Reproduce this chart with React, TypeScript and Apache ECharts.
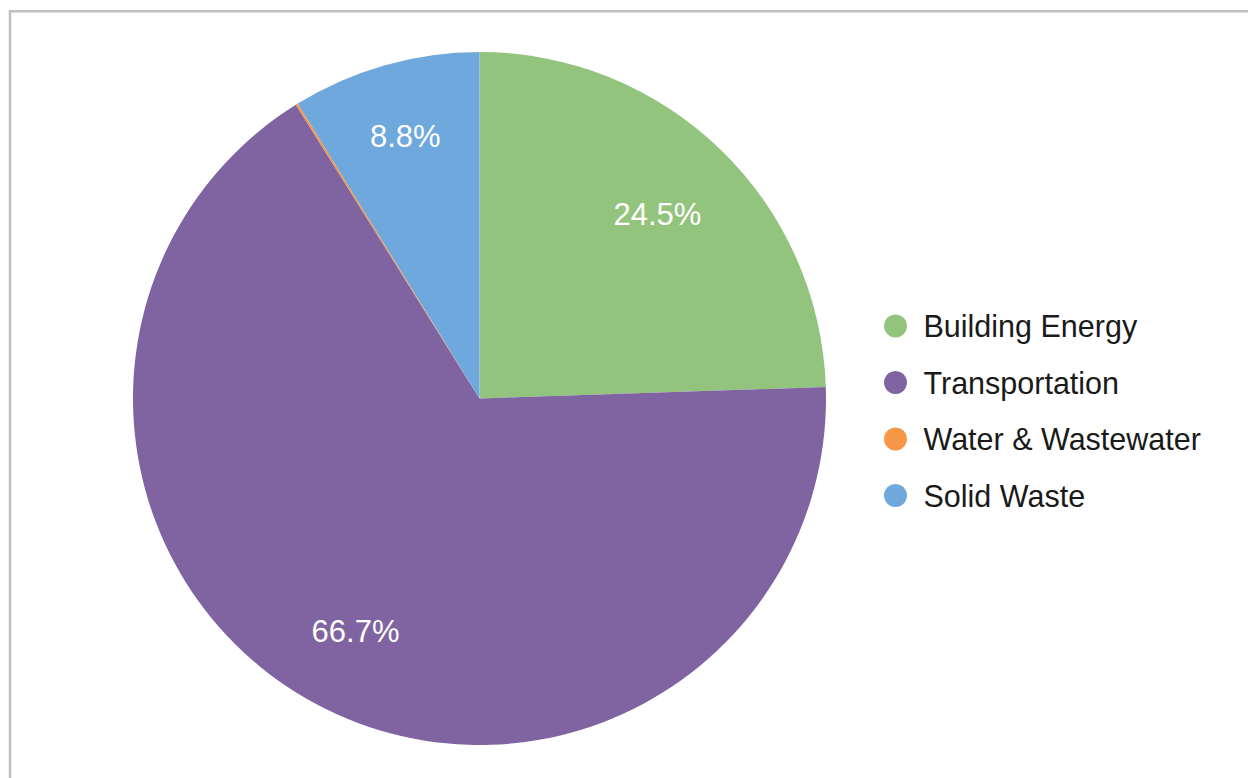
import React, { useEffect, useRef } from "react";
import * as echarts from "echarts";

const categories = ["Building Energy", "Transportation", "Water & Wastewater", "Solid Waste"];
const values = [24.5, 66.7, 0.1, 8.8];
const colors = ["#93C47D", "#8064A2", "#F79646", "#6FA8DC"];
const showLabel = [true, true, false, true];
// relative distance of each data label from the pie centre (fraction of radius)
const labelRadius = [0.73, 0.752, 0.75, 0.777];

export default function App() {
  const ref = useRef<HTMLDivElement>(null);
  useEffect(() => {
    if (!ref.current) return;
    const chart = echarts.init(ref.current, null, { renderer: "svg" });
    const font = "'Liberation Sans', Arial, sans-serif";
    const cx = 479.5;
    const cy = 398.5;
    const R = 346.5;
    const mainData = categories.map((name, i) => ({
      name,
      value: values[i],
      itemStyle: { color: colors[i] },
    }));
    const labelSeries = categories
      .map((_, k) => k)
      .filter((k) => showLabel[k])
      .map((k) => ({
        type: "pie",
        center: [cx, cy],
        radius: [R * (2 * labelRadius[k] - 1), R],
        startAngle: 90,
        clockwise: true,
        silent: true,
        avoidLabelOverlap: false,
        itemStyle: { color: "rgba(0,0,0,0)", borderWidth: 0 },
        emphasis: { disabled: true },
        labelLine: { show: false },
        label: {
          show: true,
          position: "inside",
          formatter: (p: any) => `${p.value}%`,
          color: "#ffffff",
          fontFamily: font,
          fontSize: 31,
          textBorderWidth: 0,
        },
        data: categories.map((name, i) => ({
          name,
          value: values[i],
          label: { show: i === k },
        })),
      }));
    chart.setOption({
      animation: false,
      backgroundColor: "#ffffff",
      graphic: [
        {
          type: "rect",
          shape: { x: 10, y: 11.3, width: 1400, height: 1000 },
          style: { fill: "none", stroke: "#bfbfbf", lineWidth: 2.5 },
          silent: true,
          z: 100,
        },
      ],
      legend: {
        orient: "vertical",
        left: 879,
        top: 305.5,
        data: categories,
        icon: "circle",
        itemWidth: 46,
        itemHeight: 23,
        itemGap: 25.5,
        selectedMode: false,
        textStyle: {
          fontFamily: font,
          fontSize: 30.5,
          color: "#1a1a1a",
        },
      },
      series: [
        {
          type: "pie",
          center: [cx, cy],
          radius: [0, R],
          startAngle: 90,
          clockwise: true,
          silent: true,
          label: { show: false },
          labelLine: { show: false },
          itemStyle: { borderWidth: 0 },
          emphasis: { disabled: true },
          data: mainData,
        },
        ...labelSeries,
      ],
    });
    return () => chart.dispose();
  }, []);
  return (
    <div
      ref={ref}
      style={{ position: "fixed", left: 0, top: 0, width: 1248, height: 778 }}
    />
  );
}
